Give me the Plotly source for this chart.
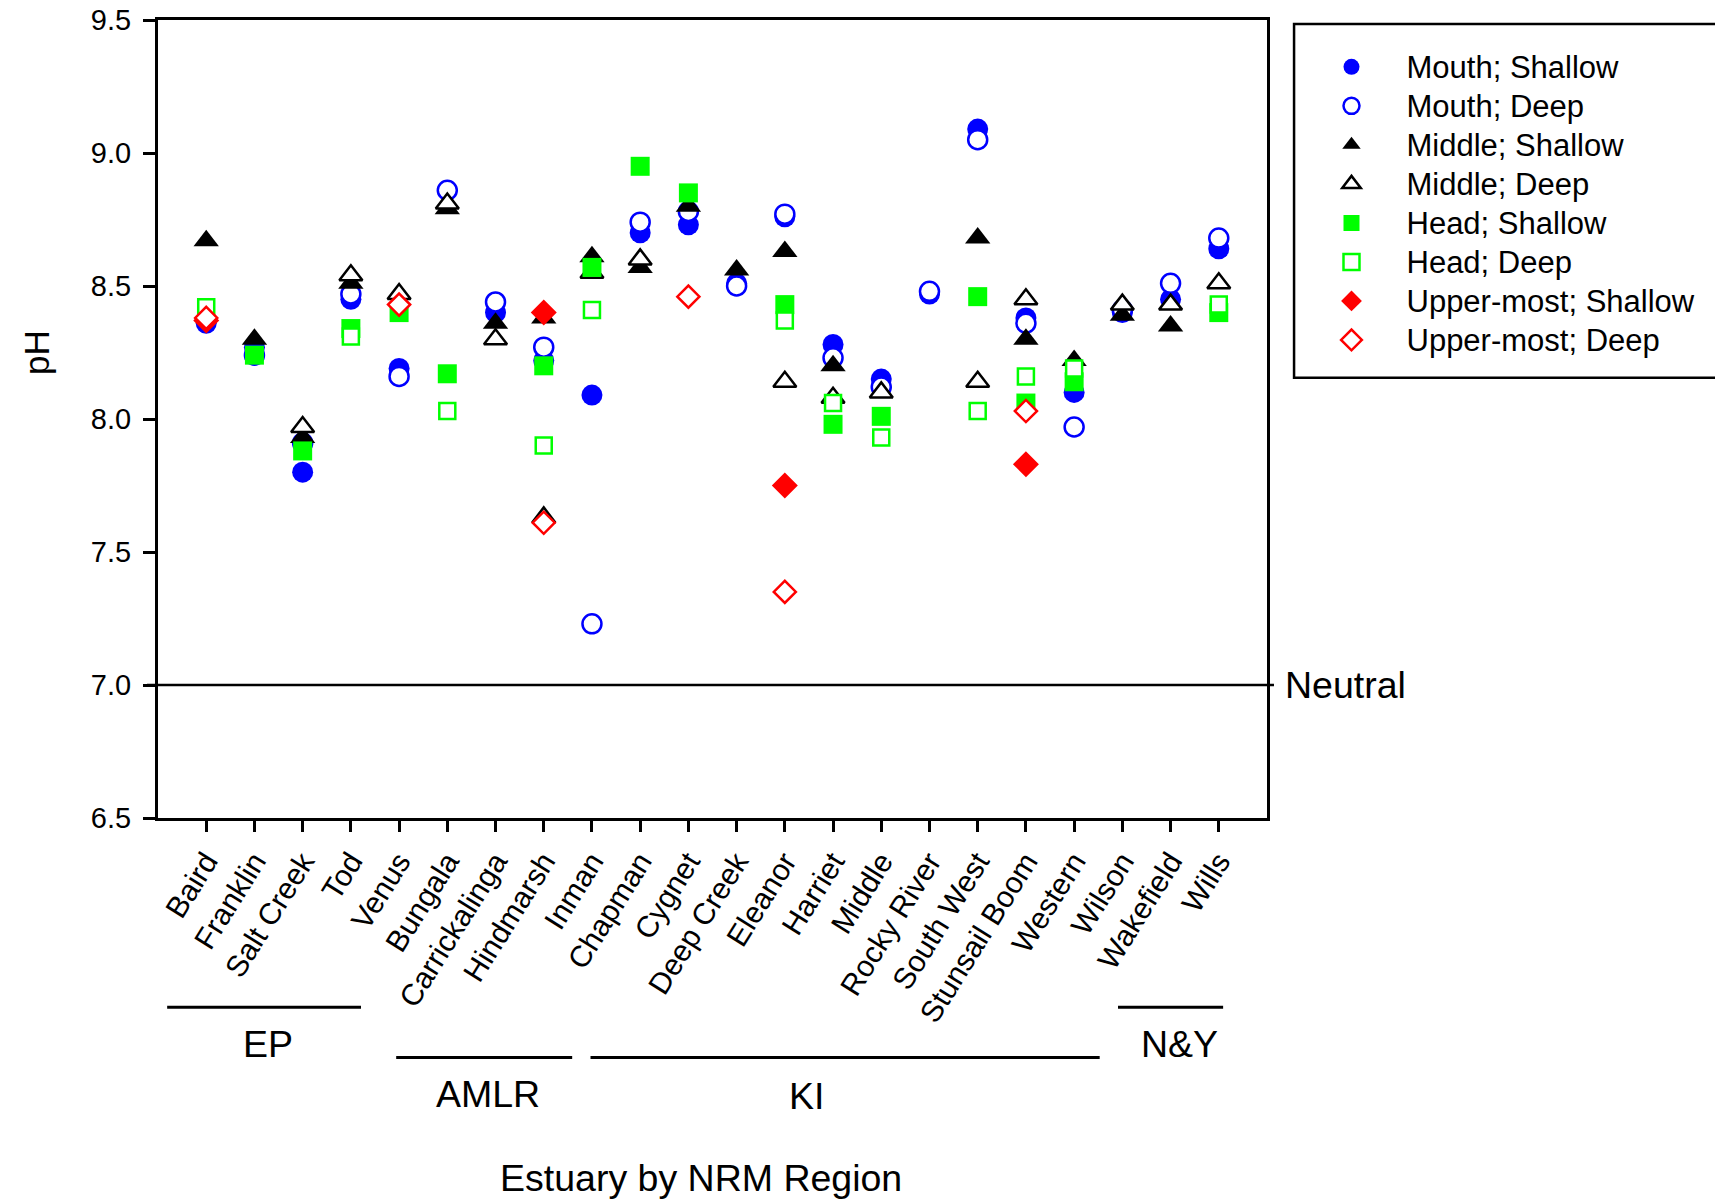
import plotly.graph_objects as go

# ---------------- data ----------------
estuaries = ["Baird", "Franklin", "Salt Creek", "Tod", "Venus", "Bungala", "Carrickalinga",
             "Hindmarsh", "Inman", "Chapman", "Cygnet", "Deep Creek", "Eleanor", "Harriet",
             "Middle", "Rocky River", "South West", "Stunsail Boom", "Western", "Wilson",
             "Wakefield", "Wills"]

mouth_shallow = [8.36, 8.27, 7.80, 8.45, 8.19, None, 8.40, 8.22, 8.09, 8.70, 8.73, 8.51,
                 8.76, 8.28, 8.15, 8.47, 9.09, 8.38, 8.10, 8.40, 8.45, 8.64]
mouth_deep = [None, 8.24, 7.91, 8.47, 8.16, 8.86, 8.44, 8.27, 7.23, 8.74, 8.78, 8.50,
              8.77, 8.23, 8.12, 8.48, 9.05, 8.36, 7.97, 8.41, 8.51, 8.68]
middle_shallow = [8.67, 8.30, 7.93, 8.51, None, 8.79, 8.36, 8.38, 8.61, 8.57, 8.80, 8.56,
                  8.63, 8.20, None, None, 8.68, 8.30, 8.22, 8.39, 8.35, None]
middle_deep = [None, None, 7.97, 8.54, 8.47, 8.81, 8.30, 7.63, 8.55, 8.60, None, None,
               8.14, 8.08, 8.10, None, 8.14, 8.45, None, 8.43, 8.43, 8.51]
head_shallow = [None, 8.24, 7.88, 8.34, 8.40, 8.17, None, 8.20, 8.57, 8.95, 8.85, None,
                8.43, 7.98, 8.01, None, 8.46, 8.06, 8.14, None, None, 8.40]
head_deep = [8.42, None, None, 8.31, None, 8.03, None, 7.90, 8.41, None, None, None,
             8.37, 8.06, 7.93, None, 8.03, 8.16, 8.19, None, None, 8.43]
upper_shallow = [8.37, None, None, None, None, None, None, 8.40, None, None, None, None,
                 7.75, None, None, None, None, 7.83, None, None, None, None]
upper_deep = [8.38, None, None, None, 8.43, None, None, 7.61, None, None, 8.46, None,
              7.35, None, None, None, None, 8.03, None, None, None, None]

series_names = ["Mouth; Shallow", "Mouth; Deep", "Middle; Shallow", "Middle; Deep",
                "Head; Shallow", "Head; Deep", "Upper-most; Shallow", "Upper-most; Deep"]
series_values = [mouth_shallow, mouth_deep, middle_shallow, middle_deep,
                 head_shallow, head_deep, upper_shallow, upper_deep]

y_ticks = [6.5, 7.0, 7.5, 8.0, 8.5, 9.0, 9.5]
neutral_ph = 7.0

regions = ["EP", "AMLR", "KI", "N&Y"]

# ---------------- layout constants ----------------
XMAX = len(estuaries) + 1
YMIN, YMAX = 6.5, 9.5
region_line_x = [(0.19, 4.21), (4.94, 8.59), (8.97, 19.53), (19.91, 22.09)]
region_line_y = [-0.237, -0.300, -0.300, -0.237]
region_label_x = [2.28, 6.84, 13.45, 21.18]
region_label_y = [-0.283, -0.346, -0.348, -0.283]

FONT = "Arial, Liberation Sans, sans-serif"
BLUE, BLACK, GREEN, RED = "#0000FF", "#000000", "#00FF00", "#FF0000"

styles = [
    dict(symbol="circle", size=21, color=BLUE, line=dict(width=0, color=BLUE)),
    dict(symbol="circle", size=19, color="white", line=dict(width=2.5, color=BLUE)),
    dict(symbol="triangle-up", size=22, color=BLACK, line=dict(width=0, color=BLACK)),
    dict(symbol="triangle-up", size=20, color="white", line=dict(width=2.5, color=BLACK)),
    dict(symbol="square", size=19, color=GREEN, line=dict(width=0, color=GREEN)),
    dict(symbol="square", size=16, color="white", line=dict(width=2.5, color=GREEN)),
    dict(symbol="diamond", size=20, color=RED, line=dict(width=0, color=RED)),
    dict(symbol="diamond", size=17, color="white", line=dict(width=2.5, color=RED)),
]

xpos = list(range(1, len(estuaries) + 1))

fig = go.Figure()
for name, vals, st in zip(series_names, series_values, styles):
    fig.add_trace(go.Scatter(
        x=xpos, y=vals, mode="markers", marker=st, cliponaxis=False,
        name='<span style="font-size:31px">' + name + '</span>'))

shapes = []
ny = (neutral_ph - YMIN) / (YMAX - YMIN)
shapes.append(dict(type="line", xref="paper", yref="paper", x0=-0.0099, x1=1.0063,
                   y0=ny, y1=ny, line=dict(color="black", width=2.5)))
for (xa, xb), yy in zip(region_line_x, region_line_y):
    shapes.append(dict(type="line", xref="paper", yref="paper", x0=xa / XMAX, x1=xb / XMAX,
                       y0=yy, y1=yy, line=dict(color="black", width=3)))
# legend frame (runs off the right edge of the page, as in the original)
shapes.append(dict(type="rect", xref="paper", yref="paper", x0=1.0244, x1=1.42,
                   y0=0.5518, y1=0.995, line=dict(color="black", width=2.5),
                   fillcolor="rgba(0,0,0,0)", layer="below"))

annotations = []
for lab, lx, ly in zip(regions, region_label_x, region_label_y):
    annotations.append(dict(text=lab, x=lx, xref="x", y=ly, yref="paper", showarrow=False,
                            xanchor="center", yanchor="middle",
                            font=dict(family=FONT, size=37.5, color="black")))
annotations.append(dict(text="Neutral", x=1.0144, xref="paper", y=neutral_ph, yref="y",
                        showarrow=False, xanchor="left", yanchor="middle",
                        font=dict(family=FONT, size=37.5, color="black")))
annotations.append(dict(text="Estuary by NRM Region", x=11.27, xref="x", y=-0.451, yref="paper",
                        showarrow=False, xanchor="center", yanchor="middle",
                        font=dict(family=FONT, size=37.5, color="black")))
annotations.append(dict(text="pH", x=-0.110, xref="paper", y=0.5827, yref="paper",
                        showarrow=False, textangle=-90, xanchor="center", yanchor="middle",
                        font=dict(family=FONT, size=35, color="black")))

fig.update_layout(
    width=1715, height=1200, autosize=False,
    margin=dict(l=158, r=448, t=20, b=382, autoexpand=False),
    paper_bgcolor="white", plot_bgcolor="white",
    font=dict(family=FONT, color="black"),
    xaxis=dict(range=[0, XMAX], tickmode="array", tickvals=xpos, ticktext=estuaries,
               tickangle=-58, ticks="outside", ticklen=11, tickwidth=2.5, tickcolor="black",
               showline=True, linewidth=3, linecolor="black", mirror=True,
               showgrid=False, zeroline=False, tickfont=dict(family=FONT, size=30)),
    yaxis=dict(range=[YMIN, YMAX], tickmode="array", tickvals=y_ticks, tickformat=".1f",
               ticks="outside", ticklen=12, tickwidth=2.5, tickcolor="black",
               showline=True, linewidth=3, linecolor="black", mirror=True,
               showgrid=False, zeroline=False, ticklabelstandoff=6,
               ticklabeloverflow="allow",
               tickfont=dict(family=FONT, size=29)),
    legend=dict(x=1.0266, y=0.972, xanchor="left", yanchor="top",
                borderwidth=0, bgcolor="rgba(0,0,0,0)",
                font=dict(family=FONT, size=27.7), itemwidth=100, tracegroupgap=0),
    shapes=shapes, annotations=annotations,
)

# remove the browser's default 8px page margin so the figure sits at the window's corner
fig.write_html("out.html", config={"displayModeBar": False},
               post_script="document.body.style.margin='0';")
